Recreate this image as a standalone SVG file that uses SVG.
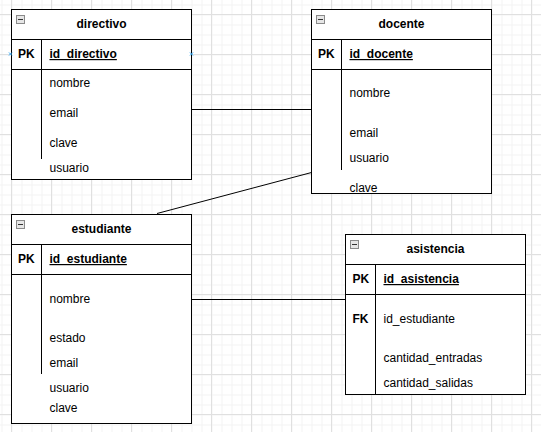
<svg xmlns="http://www.w3.org/2000/svg" width="541" height="432" viewBox="0 0 541 432">
<defs>
<pattern id="minor" width="10" height="10" patternUnits="userSpaceOnUse" x="1.5" y="4.5">
<path d="M0.5 0V10M0 0.5H10" stroke="#f3f3f3" stroke-width="1" fill="none"/>
</pattern>
<pattern id="major" width="40" height="40" patternUnits="userSpaceOnUse" x="11" y="14">
<path d="M0.5 0V40M0 0.5H40" stroke="#e0e0e0" stroke-width="1" fill="none"/>
</pattern>
<g id="minus">
<rect x="0.5" y="0.5" width="8" height="8" fill="#e6e6e6" stroke="#8a8a8a"/>
<path d="M2 4.5H7" stroke="#333" stroke-width="1"/>
</g>
</defs>
<style>
.box{fill:#fff;stroke:#000;stroke-width:1}
.ln{stroke:#000;stroke-width:1;fill:none}
text{font-family:"Liberation Sans",Arial,sans-serif;font-size:12px;fill:#000}
.t{font-weight:bold;text-anchor:middle}
.b{font-weight:bold}
.u{font-weight:bold;text-decoration:underline}
.cp{stroke:#29a3f2;stroke-width:1;fill:none}
</style>
<rect width="541" height="432" fill="#fff"/>
<rect width="541" height="432" fill="url(#minor)"/>
<rect width="541" height="432" fill="url(#major)"/>

<g id="connectors">
<path class="ln" d="M191.5 109.5H311.5"/>
<path class="ln" d="M157 213.5L311.5 172.5"/>
<path class="ln" d="M191.5 299.5H345.5"/>
</g>

<g id="directivo">
<rect class="box" x="11.5" y="9.5" width="180" height="170"/>
<path class="ln" d="M11.5 39.5H191.5M11.5 69.5H191.5M41.5 39.5V159"/>
<use href="#minus" x="16" y="15"/>
<text class="t" x="101.5" y="28">directivo</text>
<text class="b" x="18" y="58">PK</text>
<text class="u" x="49.5" y="58">id_directivo</text>
<text x="49.5" y="87">nombre</text>
<text x="49.5" y="117">email</text>
<text x="49.5" y="147">clave</text>
<text x="49.5" y="172">usuario</text>
<path class="cp" d="M9 52.5L12 55.5M12 52.5L9 55.5M190 52.5L193 55.5M193 52.5L190 55.5"/>
</g>

<g id="docente">
<rect class="box" x="311.5" y="9.5" width="180" height="184"/>
<path class="ln" d="M311.5 39.5H491.5M311.5 69.5H491.5M341.5 39.5V170"/>
<use href="#minus" x="316" y="15"/>
<text class="t" x="401.5" y="28">docente</text>
<text class="b" x="318" y="58">PK</text>
<text class="u" x="349.5" y="58">id_docente</text>
<text x="349.5" y="97">nombre</text>
<text x="349.5" y="137">email</text>
<text x="349.5" y="162">usuario</text>
<text x="349.5" y="192">clave</text>
</g>

<g id="estudiante">
<rect class="box" x="11.5" y="214.5" width="180" height="209"/>
<path class="ln" d="M11.5 244.5H191.5M11.5 274.5H191.5M41.5 244.5V374"/>
<use href="#minus" x="16" y="220"/>
<text class="t" x="101.5" y="233">estudiante</text>
<text class="b" x="18" y="263">PK</text>
<text class="u" x="49.5" y="263">id_estudiante</text>
<text x="49.5" y="303">nombre</text>
<text x="49.5" y="342">estado</text>
<text x="49.5" y="367">email</text>
<text x="49.5" y="392">usuario</text>
<text x="49.5" y="412">clave</text>
</g>

<g id="asistencia">
<rect class="box" x="345.5" y="234.5" width="180" height="160"/>
<path class="ln" d="M345.5 264.5H525.5M345.5 294.5H525.5M375.5 264.5V394.5"/>
<use href="#minus" x="350" y="240"/>
<text class="t" x="435.5" y="253">asistencia</text>
<text class="b" x="352.5" y="283">PK</text>
<text class="u" x="383.5" y="283">id_asistencia</text>
<text class="b" x="352.5" y="323">FK</text>
<text x="383.5" y="323">id_estudiante</text>
<text x="383.5" y="362">cantidad_entradas</text>
<text x="383.5" y="387">cantidad_salidas</text>
</g>
</svg>
